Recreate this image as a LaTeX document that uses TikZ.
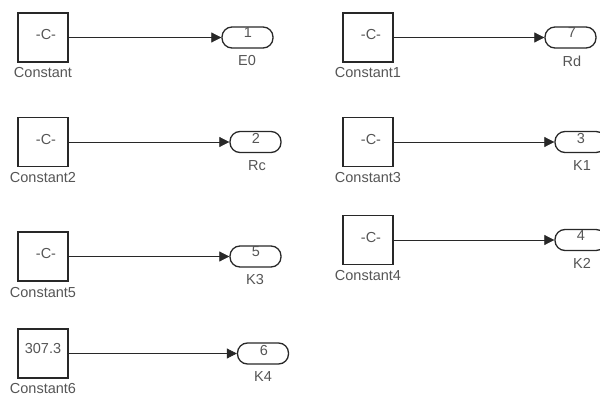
\documentclass[tikz,border=0pt]{standalone}
\usepackage{fontspec}
\setmainfont{Liberation Sans}
\usetikzlibrary{arrows.meta}
\definecolor{txt}{RGB}{85,85,85}
\definecolor{ln}{RGB}{40,40,40}
\begin{document}
\begin{tikzpicture}[x=1pt,y=-1pt,
  cblock/.style={draw=ln,line width=1.5pt,minimum width=50pt,minimum height=49pt,inner sep=0pt},
  oport/.style={draw=ln,line width=1.3pt,rounded corners=10pt,minimum width=51pt,minimum height=21pt,inner sep=0pt},
  lbl/.style={text=txt,font=\fontsize{14.5}{16}\selectfont,inner sep=0pt,anchor=center},
  wire/.style={draw=ln,line width=0.7pt,-{Triangle[length=10pt,width=10pt]}}]
\useasboundingbox (0,0) rectangle (600,396);
% row 1 left
\node[cblock] (c0) at (43,37.5) {};
\node[lbl] (c0t) at (46,35) {-C-};
\node[lbl] (c0l) at (43,73) {Constant};
\node[oport] (o1) at (247.5,37.5) {};
\node[lbl] (o1t) at (248,33) {1};
\node[lbl] (o1l) at (247,61) {E0};
\draw[wire] (c0.east) -- (o1.west);
% row 1 right
\node[cblock] (c1) at (368,37.5) {};
\node[lbl] (c1t) at (371,35) {-C-};
\node[lbl] (c1l) at (368,73) {Constant1};
\node[oport] (o7) at (570.5,37.5) {};
\node[lbl] (o7t) at (572,33) {7};
\node[lbl] (o7l) at (572,61) {Rd};
\draw[wire] (c1.east) -- (o7.west);
% row 2 left
\node[cblock] (c2) at (43,142) {};
\node[lbl] (c2t) at (46,140) {-C-};
\node[lbl] (c2l) at (43,178) {Constant2};
\node[oport] (o2) at (255.5,142) {};
\node[lbl] (o2t) at (256,138) {2};
\node[lbl] (o2l) at (257,166) {Rc};
\draw[wire] (c2.east) -- (o2.west);
% row 2 right
\node[cblock] (c3) at (368,142) {};
\node[lbl] (c3t) at (371,140) {-C-};
\node[lbl] (c3l) at (368,178) {Constant3};
\node[oport] (o3) at (580.5,142) {};
\node[lbl] (o3t) at (581,139) {3};
\node[lbl] (o3l) at (582,166) {K1};
\draw[wire] (c3.east) -- (o3.west);
% row 3 right
\node[cblock] (c4) at (368,240) {};
\node[lbl] (c4t) at (371,238) {-C-};
\node[lbl] (c4l) at (368,276) {Constant4};
\node[oport] (o4) at (580.5,240) {};
\node[lbl] (o4t) at (581,236) {4};
\node[lbl] (o4l) at (582,263) {K2};
\draw[wire] (c4.east) -- (o4.west);
% row 3 left
\node[cblock] (c5) at (43,256.5) {};
\node[lbl] (c5t) at (46,254) {-C-};
\node[lbl] (c5l) at (43,293) {Constant5};
\node[oport] (o5) at (255.5,256.5) {};
\node[lbl] (o5t) at (256,252) {5};
\node[lbl] (o5l) at (255,280) {K3};
\draw[wire] (c5.east) -- (o5.west);
% row 4 left
\node[cblock] (c6) at (43,353.5) {};
\node[lbl] (c6t) at (43,349) {307.3};
\node[lbl] (c6l) at (43,389) {Constant6};
\node[oport] (o6) at (263,353.5) {};
\node[lbl] (o6t) at (264,351) {6};
\node[lbl] (o6l) at (263,377) {K4};
\draw[wire] (c6.east) -- (o6.west);
\end{tikzpicture}
\end{document}
